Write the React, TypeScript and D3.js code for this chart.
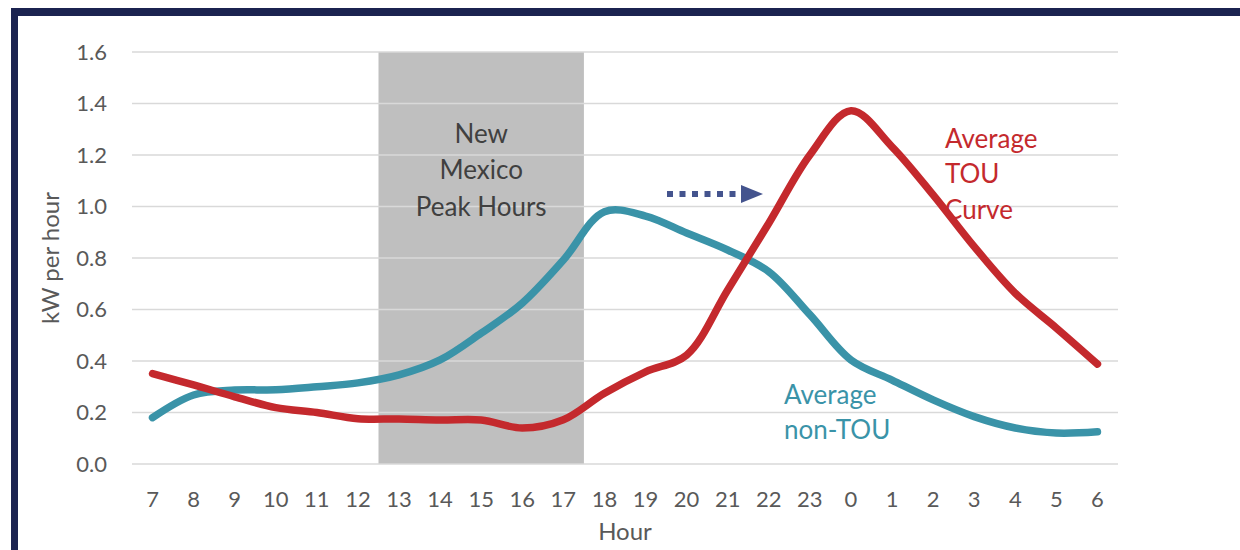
import React from "react";
import * as d3 from "d3";

const hours = ["7","8","9","10","11","12","13","14","15","16","17","18","19","20","21","22","23","0","1","2","3","4","5","6"];
const nonTou = [0.18,0.268,0.287,0.288,0.30,0.315,0.346,0.404,0.508,0.625,0.792,0.98,0.963,0.897,0.831,0.747,0.58,0.404,0.326,0.249,0.184,0.14,0.12,0.125];
const tou = [0.351,0.307,0.261,0.219,0.20,0.176,0.175,0.171,0.171,0.14,0.172,0.275,0.358,0.423,0.676,0.935,1.2,1.372,1.232,1.045,0.844,0.663,0.528,0.388];
const yTicks = [0, 0.2, 0.4, 0.6, 0.8, 1.0, 1.2, 1.4, 1.6];
const peakStart = "13";
const peakEnd = "17";

const W = 1240, H = 550;
const left = 132, right = 1118, top = 52, bottom = 464;
const FONT = "Lato, 'Open Sans', sans-serif";

export default function App() {
  const x = d3.scaleBand<string>().domain(hours).range([left, right]);
  const y = d3.scaleLinear().domain([0, 1.6]).range([bottom, top]);
  const cx = (h: string) => (x(h) as number) + x.bandwidth() / 2;
  const line = d3
    .line<number>()
    .x((_, i) => cx(hours[i]))
    .y((v) => y(v))
    .curve(d3.curveCatmullRom.alpha(0.5));
  const teal = "#3a93a8";
  const red = "#c4292d";
  const shadeX0 = x(peakStart) as number;
  const shadeX1 = (x(peakEnd) as number) + x.bandwidth();
  const arrowY = 194;
  const midShade = (shadeX0 + shadeX1) / 2;
  return (
    <svg width={W} height={H} style={{ position: "absolute", left: 0, top: 0 }} fontFamily={FONT}>
      <rect x={0} y={0} width={W} height={H} fill="#fff" />
      <rect x={11} y={8} width={W - 11} height={8} fill="#1b2350" />
      <rect x={11} y={8} width={7} height={H - 8} fill="#1b2350" />
      <rect x={shadeX0} y={y(1.6)} width={shadeX1 - shadeX0} height={y(0) - y(1.6)} fill="#bfbfbf" />
      {yTicks.map((t) => (
        <g key={t}>
          <line x1={left} x2={right} y1={y(t)} y2={y(t)} stroke="#d9d9d9" strokeWidth={1.5} />
          <text x={107} y={y(t)} dy="0.36em" textAnchor="end" fontSize={22} fill="#595959">
            {t.toFixed(1)}
          </text>
        </g>
      ))}
      {hours.map((h) => (
        <text key={h} x={cx(h)} y={507} textAnchor="middle" fontSize={22} fill="#595959">
          {h}
        </text>
      ))}
      <text x={625} y={540} textAnchor="middle" fontSize={24} fill="#595959">Hour</text>
      <text transform="translate(59,258) rotate(-90)" textAnchor="middle" fontSize={24} fill="#595959">
        kW per hour
      </text>
      <text textAnchor="middle" fontSize={26} fill="#404040">
        <tspan x={midShade} y={143}>New</tspan>
        <tspan x={midShade} y={179}>Mexico</tspan>
        <tspan x={midShade} y={216}>Peak Hours</tspan>
      </text>
      <path d={line(nonTou) || ""} fill="none" stroke={teal} strokeWidth={7.5} strokeLinecap="round" strokeLinejoin="round" />
      <path d={line(tou) || ""} fill="none" stroke={red} strokeWidth={7.5} strokeLinecap="round" strokeLinejoin="round" />
      <text fontSize={26} fill={red}>
        <tspan x={945} y={148}>Average</tspan>
        <tspan x={945} y={183}>TOU</tspan>
        <tspan x={945} y={219}>Curve</tspan>
      </text>
      <text fontSize={26} fill={teal}>
        <tspan x={784} y={404}>Average</tspan>
        <tspan x={784} y={439}>non-TOU</tspan>
      </text>
      <line x1={667} x2={741} y1={arrowY} y2={arrowY} stroke="#44548e" strokeWidth={6} strokeDasharray="6 6.5" />
      <path d={`M741,${arrowY - 9} L763,${arrowY} L741,${arrowY + 9} Z`} fill="#44548e" />
    </svg>
  );
}
